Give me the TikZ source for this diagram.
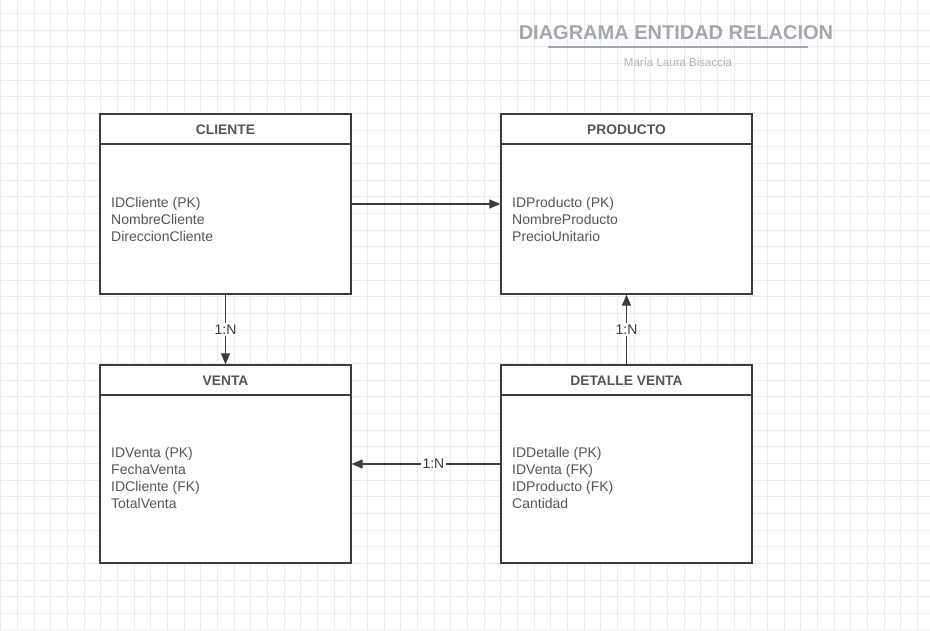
\documentclass[tikz,border=0pt]{standalone}
\usepackage{fontspec}
\setmainfont{Liberation Sans}
\usepackage{tikz}
\usetikzlibrary{positioning}
\usetikzlibrary{arrows.meta}

\definecolor{gridgray}{RGB}{236,236,236}
\definecolor{boxgray}{RGB}{60,60,60}
\definecolor{textgray}{RGB}{85,85,85}
\definecolor{titlegray}{RGB}{163,168,176}

\tikzset{
    entity/.style={draw=boxgray, line width=1.3, fill=white, minimum width=251, minimum height=180, inner sep=0},
    entityhead/.style={font=\fontsize{13.8}{16}\selectfont\bfseries, text=textgray, inner sep=0},
    fields/.style={font=\fontsize{14}{17}\selectfont, text=textgray, align=left, anchor=west, inner sep=0},
    rel/.style={draw=boxgray, line width=1.1, -{Triangle[length=11pt,width=9pt]}},
    card/.style={fill=white, font=\fontsize{14}{15}\selectfont, text=boxgray, inner sep=1.5pt}
}

\begin{document}
\begin{tikzpicture}[x=1pt,y=1pt,yscale=-1,xscale=1]
            \useasboundingbox (0,0) rectangle (930,631);
            \fill[white] (0,0) rectangle (930,631);

            %grid
            \foreach \i in {0,...,56} {
                \draw[gridgray, line width=0.8] (0.6+16.67*\i,0) -- (0.6+16.67*\i,631);
            }
            \foreach \j in {0,...,38} {
                \draw[gridgray, line width=0.8] (0,-3.3+16.67*\j) -- (930,-3.3+16.67*\j);
            }

            %title
            \node[font=\fontsize{20}{24}\selectfont\bfseries, text=titlegray, inner sep=0] (titulo) at (676,33) {DIAGRAMA ENTIDAD RELACION};
            \draw[titlegray, line width=1.5] (548,47) -- (808,47);
            \node[font=\fontsize{11.5}{13}\selectfont, text=titlegray!90, inner sep=0] (autor) at (678,62) {María Laura Bisaccia};

            %entities
            \node[entity] (cliente) at (225.5,204) {};
            \node[entity] (producto) at (626.5,204) {};
            \node[entity, minimum height=198] (venta) at (225.5,464) {};
            \node[entity, minimum height=198] (detalle) at (626.5,464) {};

            %header lines
            \draw[boxgray, line width=1.3] (100,144) -- (351,144);
            \draw[boxgray, line width=1.3] (501,144) -- (752,144);
            \draw[boxgray, line width=1.3] (100,395) -- (351,395);
            \draw[boxgray, line width=1.3] (501,395) -- (752,395);

            %headers
            \node[entityhead] (hcliente) at (225.5,130) {CLIENTE};
            \node[entityhead] (hproducto) at (626.5,130) {PRODUCTO};
            \node[entityhead] (hventa) at (225.5,381) {VENTA};
            \node[entityhead] (hdetalle) at (626.5,381) {DETALLE VENTA};

            %attributes
            \node[fields] (fcliente) at (111,219) {IDCliente (PK)\\NombreCliente\\DireccionCliente};
            \node[fields] (fproducto) at (512,219) {IDProducto (PK)\\NombreProducto\\PrecioUnitario};
            \node[fields] (fventa) at (111,478) {IDVenta (PK)\\FechaVenta\\IDCliente (FK)\\TotalVenta};
            \node[fields] (fdetalle) at (512,478) {IDDetalle (PK)\\IDVenta (FK)\\IDProducto (FK)\\Cantidad};

            %relations
            \draw[rel] (cliente.east) -- (producto.west);
            \draw[rel] (cliente.south) -- node[card] {1:N} (venta.north);
            \draw[rel] (detalle.north) -- node[card] {1:N} (producto.south);
            \draw[rel] (detalle.west) -- node[card, pos=0.45] {1:N} (venta.east);

\end{tikzpicture}
\end{document}
